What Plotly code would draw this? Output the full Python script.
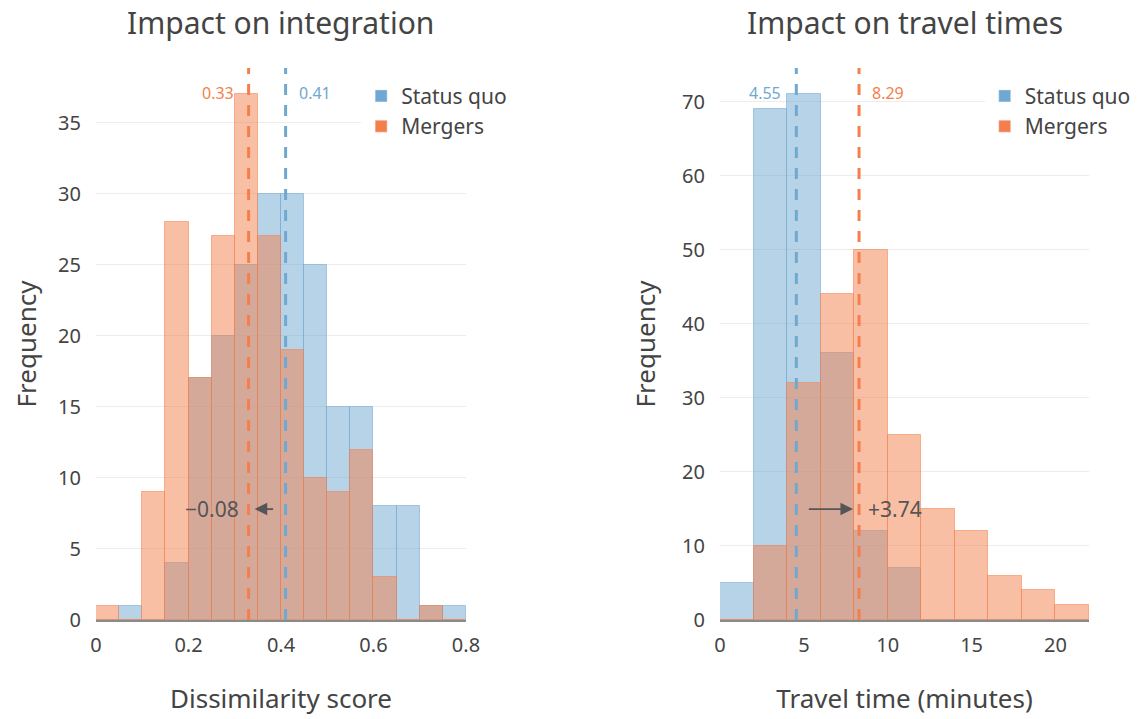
import plotly.graph_objects as go

# ---------------- data ----------------
int_bin_edges = [0.0, 0.05, 0.10, 0.15, 0.20, 0.25, 0.30, 0.35, 0.40, 0.45,
                 0.50, 0.55, 0.60, 0.65, 0.70, 0.75, 0.80]
int_status_quo = [0, 1, 0, 4, 17, 20, 25, 30, 30, 25, 15, 15, 8, 8, 1, 1]
int_mergers = [1, 0, 9, 28, 17, 27, 37, 27, 19, 10, 9, 12, 3, 0, 1, 0]
int_means = {"Status quo": 0.41, "Mergers": 0.33}
int_diff_label = "\u22120.08"

travel_bin_edges = [0, 2, 4, 6, 8, 10, 12, 14, 16, 18, 20, 22]
travel_status_quo = [5, 69, 71, 36, 12, 7, 0, 0, 0, 0, 0]
travel_mergers = [0, 10, 32, 44, 50, 25, 15, 12, 6, 4, 2]
travel_means = {"Status quo": 4.55, "Mergers": 8.29}
travel_diff_label = "+3.74"

series_names = ["Status quo", "Mergers"]
titles = ["Impact on integration", "Impact on travel times"]
x_titles = ["Dissimilarity score", "Travel time (minutes)"]
int_ticks = [0, 0.2, 0.4, 0.6, 0.8]
int_tick_text = ["0", "0.2", "0.4", "0.6", "0.8"]
travel_ticks = [0, 5, 10, 15, 20]
int_yticks = [0, 5, 10, 15, 20, 25, 30, 35]
travel_yticks = [0, 10, 20, 30, 40, 50, 60, 70]

# ---------------- style ----------------
FONT = "Noto Sans"
TXT = "#444444"
BLUE = (111, 168, 209)
ORANGE = (244, 127, 76)


def rgba(c, a):
    return f"rgba({c[0]},{c[1]},{c[2]},{a})"


def hexc(c):
    return "#%02x%02x%02x" % c


fig = go.Figure()


def add_hist(edges, counts, color, xa, ya):
    lefts = edges[:-1]
    widths = [edges[i + 1] - edges[i] for i in range(len(edges) - 1)]
    fig.add_trace(go.Bar(
        x=lefts, y=counts, width=widths, offset=0,
        marker=dict(color=rgba(color, 0.5), line=dict(color=rgba(color, 0.55), width=1)),
        xaxis=xa, yaxis=ya, showlegend=False, hoverinfo="skip",
    ))


add_hist(int_bin_edges, int_status_quo, BLUE, "x", "y")
add_hist(int_bin_edges, int_mergers, ORANGE, "x", "y")
add_hist(travel_bin_edges, travel_status_quo, BLUE, "x2", "y2")
add_hist(travel_bin_edges, travel_mergers, ORANGE, "x2", "y2")

# legend entries
for leg, xa, ya in [("legend", "x", "y"), ("legend2", "x2", "y2")]:
    for name, col in zip(series_names, [BLUE, ORANGE]):
        fig.add_trace(go.Bar(x=[None], y=[None], name=name, marker=dict(color=hexc(col)),
                             xaxis=xa, yaxis=ya, legend=leg, showlegend=True))

shapes = []
annotations = []


def add_means(means, diff_label, xref, yref):
    lo_name = min(means, key=means.get)
    for name, col in zip(series_names, [BLUE, ORANGE]):
        m = means[name]
        shapes.append(dict(type="line", xref=xref, yref=yref + " domain", x0=m, x1=m, y0=0, y1=1,
                           line=dict(color=hexc(col), width=3, dash="11px,10px"), layer="above"))
        is_lo = (name == lo_name)
        annotations.append(dict(
            xref=xref, yref=yref + " domain", x=m, y=0.955, text=f"{m:.2f}", showarrow=False,
            xanchor="right" if is_lo else "left", yanchor="middle",
            xshift=-13 if is_lo else 11,
            font=dict(family=FONT, size=16, color=hexc(col)),
        ))
    sq = means["Status quo"]
    mg = means["Mergers"]
    annotations.append(dict(
        xref=xref, yref=yref + " domain", x=mg, y=0.201, axref=xref, ayref=yref + " domain",
        ax=sq, ay=0.201, text="", showarrow=True, arrowhead=2, arrowsize=1.4, arrowwidth=1.8,
        arrowcolor="#555555", standoff=6, startstandoff=11,
    ))
    right_side = mg > sq
    annotations.append(dict(
        xref=xref, yref=yref + " domain", x=mg, y=0.201, text=diff_label, showarrow=False,
        xanchor="left" if right_side else "right", yanchor="middle",
        xshift=7 if right_side else -8,
        font=dict(family=FONT, size=21, color="#555555"),
    ))


add_means(int_means, int_diff_label, "x", "y")
add_means(travel_means, travel_diff_label, "x2", "y2")

for t, xa in zip(titles, ["x", "x2"]):
    annotations.append(dict(
        xref=xa + " domain", yref="paper", x=0.5, y=1, yshift=46, text=t, showarrow=False,
        xanchor="center", yanchor="middle", font=dict(family=FONT, size=30, color=TXT),
    ))

axis_common = dict(showgrid=False, zeroline=False, showline=True, linecolor="#8a8a8a", linewidth=1.5,
                   ticks="", ticklabelstandoff=6, automargin=True,
                   tickfont=dict(family=FONT, size=20, color=TXT),
                   title_font=dict(family=FONT, size=26, color=TXT))
yaxis_common = dict(showgrid=True, gridcolor="#ececec", gridwidth=1, zeroline=False, showline=False,
                    ticks="", ticklabelstandoff=14, automargin=True,
                    tickfont=dict(family=FONT, size=20, color=TXT),
                    title_font=dict(family=FONT, size=26, color=TXT))

fig.update_layout(
    width=1135, height=711,
    paper_bgcolor="white", plot_bgcolor="white",
    font=dict(family=FONT, color=TXT),
    barmode="overlay", bargap=0,
    margin=dict(l=88, r=54, t=60, b=99, autoexpand=False),
    xaxis=dict(domain=[0, 0.3726], range=[0, 0.8], tickvals=int_ticks, ticktext=int_tick_text,
               title=dict(text=x_titles[0], standoff=33), anchor="y", **axis_common),
    xaxis2=dict(domain=[0.6284, 1], range=[0, 22], tickvals=travel_ticks,
                title=dict(text=x_titles[1], standoff=33), anchor="y2", **axis_common),
    yaxis=dict(range=[0, max(int_mergers) * 1.05], tickvals=int_yticks, anchor="x",
               title=dict(text="Frequency", standoff=19), **yaxis_common),
    yaxis2=dict(range=[0, max(travel_status_quo) * 1.05], tickvals=travel_yticks, anchor="x2",
                title=dict(text="Frequency", standoff=19), **yaxis_common),
    legend=dict(x=0.267, y=0.986, xanchor="left", yanchor="top", bgcolor="white",
                font=dict(family=FONT, size=21, color=TXT)),
    legend2=dict(x=0.895, y=0.986, xanchor="left", yanchor="top", bgcolor="white",
                 font=dict(family=FONT, size=21, color=TXT)),
    shapes=shapes, annotations=annotations,
)

fig.write_html("out.html")
